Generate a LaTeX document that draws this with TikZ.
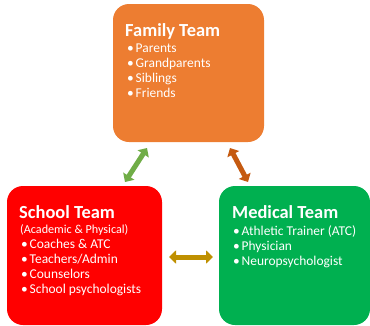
\documentclass[tikz,border=0pt]{standalone}
\usepackage{fontspec}
\setmainfont{Carlito}
\usetikzlibrary{arrows.meta}
\definecolor{famorange}{HTML}{ED7D31}
\definecolor{schoolred}{HTML}{FF0000}
\definecolor{medgreen}{HTML}{00B050}
\definecolor{arrgreen}{HTML}{70AD47}
\definecolor{arrbrown}{HTML}{C55A11}
\definecolor{arrgold}{HTML}{BF9000}
\newcommand{\bul}[1]{\makebox[8.5bp][l]{\textbullet}#1}
\begin{document}
\begin{tikzpicture}[x=1bp,y=-1bp,
  teambox/.style={rounded corners=16bp, inner sep=0pt},
  title/.style={anchor=base west, inner sep=0pt, text=white, font=\fontsize{18.5}{22}\selectfont\bfseries},
  items/.style={anchor=base west, inner sep=0pt, text=white, align=left, font=\fontsize{13.5}{15}\selectfont},
  dblarrow/.style={line width=5bp, {Triangle[length=7bp,width=13bp]}-{Triangle[length=7bp,width=13bp]}}
]
\useasboundingbox (0,0) rectangle (370,326);
% boxes
\fill[famorange, teambox] (113,4) rectangle (264,142);
\node[inner sep=0pt, minimum width=151bp, minimum height=138bp] (fam) at (188.5,73) {};
\fill[schoolred, teambox] (7,186) rectangle (162,325);
\node[inner sep=0pt, minimum width=155bp, minimum height=139bp] (sch) at (84.5,255.5) {};
\fill[medgreen, teambox] (219,186) rectangle (370,325);
\node[inner sep=0pt, minimum width=151bp, minimum height=139bp] (med) at (294.5,255.5) {};
% texts (items anchored at the baseline of their last line)
\node[title] (famt) at (125,36) {Family Team};
\node[items] (fami) at (127,97) {\bul{Parents}\\\bul{Grandparents}\\\bul{Siblings}\\\bul{Friends}};
\node[title] (scht) at (19,218) {School Team};
\node[anchor=base west, inner sep=0pt, text=white, font=\fontsize{12.2}{14}\selectfont] (schp) at (20,233) {(Academic \& Physical)};
\node[items] (schi) at (21,293) {\bul{Coaches \& ATC}\\\bul{Teachers/Admin}\\\bul{Counselors}\\\bul{School psychologists}};
\node[title] (medt) at (232,218) {Medical Team};
\node[items] (medi) at (233,265) {\bul{Athletic Trainer (ATC)}\\\bul{Physician}\\\bul{Neuropsychologist}};
% arrows
\coordinate (g1) at (125,182);
\coordinate (g2) at (147,148);
\coordinate (b1) at (230,148);
\coordinate (b2) at (248,182);
\coordinate (h1) at (169,257);
\coordinate (h2) at (213,257);
\draw[dblarrow, arrgreen] (g1) -- (g2);
\draw[dblarrow, arrbrown] (b1) -- (b2);
\draw[dblarrow, arrgold] (h1) -- (h2);
\end{tikzpicture}
\end{document}
